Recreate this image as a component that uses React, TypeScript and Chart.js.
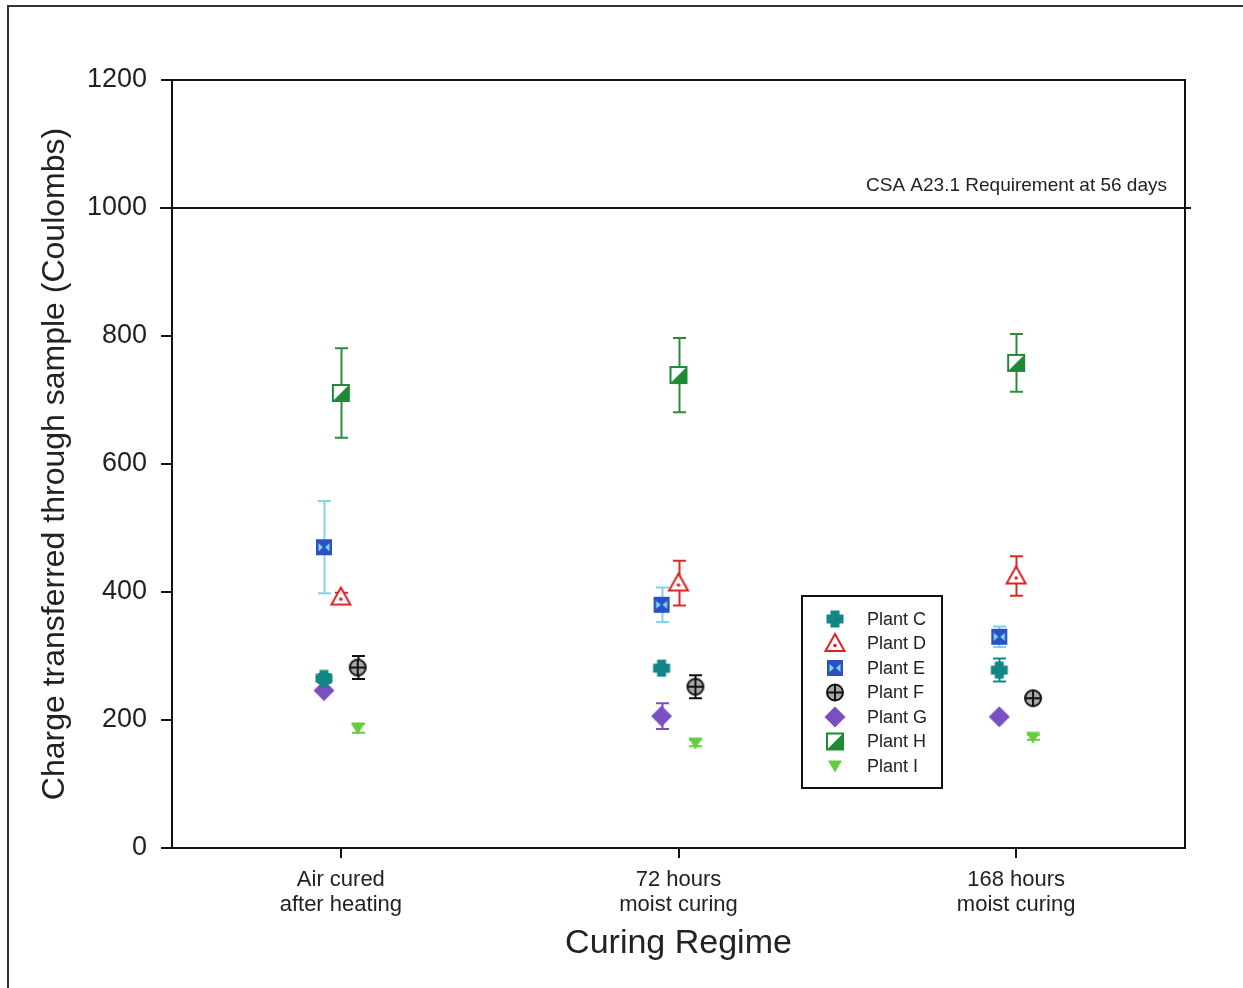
import React, { useEffect, useRef } from 'react';
import { Chart, registerables } from 'chart.js';

Chart.register(...registerables);

// ---------------- data ----------------
const categories: string[][] = [
  ['Air cured', 'after heating'],
  ['72 hours', 'moist curing'],
  ['168 hours', 'moist curing'],
];
const categoryPositions = [0.5, 1.5, 2.5];

const plantNames = ['Plant C', 'Plant D', 'Plant E', 'Plant F', 'Plant G', 'Plant H', 'Plant I'];

const plantC = [265, 281, 278];
const plantCErr = [7, 5, 18];
const plantD = [392, 414, 425];
const plantDErr = [7, 35, 31];
const plantE = [470, 380, 330];
const plantEErr = [72, 27, 16];
const plantF = [282, 252, 234];
const plantFErr = [18, 18, 0];
const plantG = [246, 206, 205];
const plantGErr = [0, 20, 0];
const plantH = [711, 739, 758];
const plantHErr = [70, 58, 45];
const plantI = [187, 164, 173];
const plantIErr = [7, 5, 4];

const yTicks = [0, 200, 400, 600, 800, 1000, 1200];
const thresholdValue = 1000;
const thresholdLabel = 'CSA A23.1 Requirement at 56 days';
const yTitle = 'Charge transferred through sample (Coulombs)';
const xTitle = 'Curing Regime';

// ---------------- styling ----------------
const FONT = "'Liberation Sans', Arial, Helvetica, sans-serif";
const markerKinds = ['C', 'D', 'E', 'F', 'G', 'H', 'I'];
const errColors = ['#138a8a', '#e02828', '#7fd4ea', '#111111', '#7b4fc0', '#2e8b3a', '#66cc44'];
const jitter = [-0.05, 0, -0.05, 0.05, -0.05, 0, 0.05];

function drawMarker(ctx: CanvasRenderingContext2D, kind: string, x: number, y: number) {
  ctx.save();
  ctx.translate(x, y);
  ctx.lineJoin = 'miter';
  switch (kind) {
    case 'C': {
      ctx.fillStyle = '#128585';
      ctx.fillRect(-8.5, -4.5, 17, 9);
      ctx.fillRect(-4.5, -8.5, 9, 17);
      break;
    }
    case 'D': {
      ctx.beginPath();
      ctx.moveTo(0, -9.5);
      ctx.lineTo(9.5, 7.5);
      ctx.lineTo(-9.5, 7.5);
      ctx.closePath();
      ctx.fillStyle = '#ffffff';
      ctx.fill();
      ctx.strokeStyle = '#e02020';
      ctx.lineWidth = 2;
      ctx.stroke();
      ctx.beginPath();
      ctx.arc(0, 2, 1.8, 0, Math.PI * 2);
      ctx.fillStyle = '#e02020';
      ctx.fill();
      break;
    }
    case 'E': {
      ctx.fillStyle = '#2b50c6';
      ctx.fillRect(-8, -8, 16, 16);
      ctx.fillStyle = '#7fdcf0';
      ctx.beginPath();
      ctx.moveTo(-5.5, -4);
      ctx.lineTo(-1, 0);
      ctx.lineTo(-5.5, 4);
      ctx.closePath();
      ctx.fill();
      ctx.beginPath();
      ctx.moveTo(5.5, -4);
      ctx.lineTo(1, 0);
      ctx.lineTo(5.5, 4);
      ctx.closePath();
      ctx.fill();
      break;
    }
    case 'F': {
      ctx.beginPath();
      ctx.arc(0, 0, 8, 0, Math.PI * 2);
      ctx.fillStyle = '#a8a8a8';
      ctx.fill();
      ctx.strokeStyle = '#111111';
      ctx.lineWidth = 2;
      ctx.stroke();
      ctx.beginPath();
      ctx.moveTo(-8, 0);
      ctx.lineTo(8, 0);
      ctx.moveTo(0, -8);
      ctx.lineTo(0, 8);
      ctx.stroke();
      break;
    }
    case 'G': {
      ctx.beginPath();
      ctx.moveTo(0, -10.5);
      ctx.lineTo(10.5, 0);
      ctx.lineTo(0, 10.5);
      ctx.lineTo(-10.5, 0);
      ctx.closePath();
      ctx.fillStyle = '#7a4fc2';
      ctx.fill();
      break;
    }
    case 'H': {
      ctx.fillStyle = '#ffffff';
      ctx.fillRect(-8, -8, 16, 16);
      ctx.beginPath();
      ctx.moveTo(8, -8);
      ctx.lineTo(8, 8);
      ctx.lineTo(-8, 8);
      ctx.closePath();
      ctx.fillStyle = '#1f8a36';
      ctx.fill();
      ctx.strokeStyle = '#1f8a36';
      ctx.lineWidth = 2;
      ctx.strokeRect(-8, -8, 16, 16);
      break;
    }
    case 'I': {
      ctx.beginPath();
      ctx.moveTo(-7, -5.5);
      ctx.lineTo(7, -5.5);
      ctx.lineTo(0, 6.5);
      ctx.closePath();
      ctx.fillStyle = '#66cc44';
      ctx.fill();
      break;
    }
  }
  ctx.restore();
}

function makeMarkerCanvas(kind: string): HTMLCanvasElement {
  const c = document.createElement('canvas');
  c.width = 26;
  c.height = 26;
  const ctx = c.getContext('2d');
  if (ctx) drawMarker(ctx, kind, 13, 13);
  return c;
}

const App: React.FC = () => {
  const canvasRef = useRef<HTMLCanvasElement | null>(null);

  useEffect(() => {
    if (!canvasRef.current) return;
    const values = [plantC, plantD, plantE, plantF, plantG, plantH, plantI];
    const errors = [plantCErr, plantDErr, plantEErr, plantFErr, plantGErr, plantHErr, plantIErr];

    const datasets = plantNames.map((name, s) => ({
      label: name,
      data: values[s].map((v, i) => ({ x: categoryPositions[i] + jitter[s], y: v })),
      pointStyle: makeMarkerCanvas(markerKinds[s]) as any,
      pointRadius: 8,
      showLine: false,
    }));

    const extrasPlugin = {
      id: 'extras',
      beforeDatasetsDraw(chart: any) {
        const ctx = chart.ctx as CanvasRenderingContext2D;
        const yScale = chart.scales.y;
        ctx.save();
        values.forEach((_, s) => {
          const meta = chart.getDatasetMeta(s);
          values[s].forEach((v, i) => {
            const e = errors[s][i];
            if (!e) return;
            const pt = meta.data[i];
            const x = Math.round(pt.x) + 0.5;
            const yTop = yScale.getPixelForValue(v + e);
            const yBot = yScale.getPixelForValue(v - e);
            ctx.strokeStyle = errColors[s];
            ctx.lineWidth = 2;
            ctx.beginPath();
            ctx.moveTo(x, yTop);
            ctx.lineTo(x, yBot);
            ctx.moveTo(x - 6.5, yTop);
            ctx.lineTo(x + 6.5, yTop);
            ctx.moveTo(x - 6.5, yBot);
            ctx.lineTo(x + 6.5, yBot);
            ctx.stroke();
          });
        });
        ctx.restore();
      },
      afterDraw(chart: any) {
        const ctx = chart.ctx as CanvasRenderingContext2D;
        const area = chart.chartArea;
        const yScale = chart.scales.y;
        ctx.save();
        // outer figure frame
        ctx.strokeStyle = '#333333';
        ctx.lineWidth = 2;
        ctx.beginPath();
        ctx.moveTo(8, 988);
        ctx.lineTo(8, 6);
        ctx.lineTo(1243, 6);
        ctx.stroke();
        // plot frame (top / right)
        ctx.strokeStyle = '#111111';
        ctx.beginPath();
        ctx.moveTo(area.left, area.top);
        ctx.lineTo(area.right, area.top);
        ctx.lineTo(area.right, area.bottom);
        ctx.stroke();
        // threshold line
        const ty = Math.round(yScale.getPixelForValue(thresholdValue));
        ctx.beginPath();
        ctx.moveTo(area.left - 12, ty);
        ctx.lineTo(area.right + 6, ty);
        ctx.stroke();
        ctx.fillStyle = '#222222';
        ctx.font = `19px ${FONT}`;
        ctx.textAlign = 'right';
        ctx.textBaseline = 'middle';
        ctx.fillText(thresholdLabel, area.right - 18, ty - 22);
        // legend
        const lx = 802, ly = 596, lw = 140, lh = 192;
        ctx.fillStyle = '#ffffff';
        ctx.fillRect(lx, ly, lw, lh);
        ctx.strokeStyle = '#111111';
        ctx.lineWidth = 2;
        ctx.strokeRect(lx, ly, lw, lh);
        ctx.font = `18px ${FONT}`;
        ctx.textAlign = 'left';
        ctx.textBaseline = 'middle';
        plantNames.forEach((name, s) => {
          const ry = 619 + s * 24.5;
          drawMarker(ctx, markerKinds[s], 835, ry);
          ctx.fillStyle = '#222222';
          ctx.fillText(name, 867, ry + 1);
        });
        ctx.restore();
      },
    };

    const chart = new Chart(canvasRef.current, {
      type: 'scatter',
      data: { datasets: datasets as any },
      plugins: [extrasPlugin],
      options: {
        animation: false,
        responsive: false,
        layout: { padding: { top: 80, right: 58, left: 0, bottom: 0 } },
        plugins: { legend: { display: false }, tooltip: { enabled: false } },
        scales: {
          x: {
            type: 'linear',
            min: 0,
            max: 3,
            afterBuildTicks: (scale: any) => {
              scale.ticks = categoryPositions.map((v) => ({ value: v }));
            },
            afterFit: (scale: any) => {
              scale.height = 140;
            },
            ticks: {
              autoSkip: false,
              maxRotation: 0,
              padding: 9,
              color: '#222222',
              font: { family: FONT, size: 22, lineHeight: 1.15 },
              callback: (_v: any, index: number) => categories[index],
            },
            grid: {
              drawOnChartArea: false,
              drawTicks: true,
              tickLength: 10,
              color: '#111111',
              lineWidth: 2,
            },
            border: { display: true, color: '#111111', width: 2 },
            title: {
              display: true,
              text: xTitle,
              color: '#222222',
              font: { family: FONT, size: 34 },
              padding: { top: 0, bottom: 24 },
            },
          },
          y: {
            type: 'linear',
            min: 0,
            max: 1200,
            afterBuildTicks: (scale: any) => {
              scale.ticks = yTicks.map((v) => ({ value: v }));
            },
            afterFit: (scale: any) => {
              scale.width = 172;
            },
            ticks: {
              padding: 14,
              color: '#222222',
              font: { family: FONT, size: 27 },
              callback: (v: any) => String(v),
            },
            grid: {
              drawOnChartArea: false,
              drawTicks: true,
              tickLength: 11,
              color: '#111111',
              lineWidth: 2,
            },
            border: { display: true, color: '#111111', width: 2 },
            title: {
              display: true,
              text: yTitle,
              color: '#222222',
              font: { family: FONT, size: 32 },
              padding: { top: 36, bottom: 0 },
            },
          },
        },
      } as any,
    });

    return () => {
      chart.destroy();
    };
  }, []);

  return (
    <div style={{ position: 'absolute', left: 0, top: 0, width: 1243, height: 988, background: '#ffffff' }}>
      <canvas ref={canvasRef} width={1243} height={988} style={{ display: 'block' }} />
    </div>
  );
};

export default App;
